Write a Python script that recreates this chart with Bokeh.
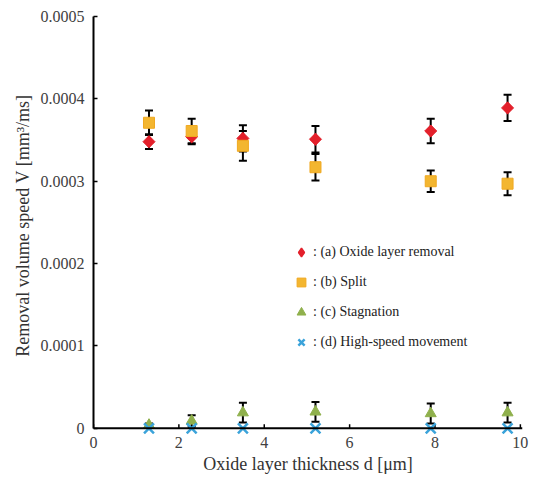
from bokeh.plotting import figure
from bokeh.models import (ColumnDataSource, Range1d, FixedTicker, Whisker, TeeHead,
                          Legend, LegendItem, Span)
from bokeh.embed import file_html
from bokeh.resources import INLINE
import math

# ---- data ----
thickness = [1.3, 2.3, 3.5, 5.2, 7.9, 9.7]
removal = [0.000348, 0.000354, 0.000352, 0.000351, 0.000361, 0.000389]
removal_err = [0.000009, 0.000009, 0.000016, 0.000016, 0.000015, 0.000016]
split = [0.000371, 0.000361, 0.000343, 0.000317, 0.000300, 0.000297]
split_err = [0.000015, 0.000015, 0.000018, 0.000016, 0.000013, 0.000014]
stagnation = [0.000004, 0.000009, 0.000019, 0.000020, 0.000018, 0.000019]
stagnation_err = [0.000002, 0.000007, 0.000012, 0.000012, 0.000012, 0.000012]
highspeed = [0.0, 0.0, 0.0, 0.0, 0.0, 0.0]

x_ticks = [0, 2, 4, 6, 8, 10]
y_ticks = [0, 0.0001, 0.0002, 0.0003, 0.0004, 0.0005]
y_tick_labels = ["0", "0.0001", "0.0002", "0.0003", "0.0004", "0.0005"]
legend_labels = [": (a) Oxide layer removal", ": (b) Split", ": (c) Stagnation",
                 ": (d) High-speed movement"]

FONT = "Liberation Serif"
Y_LO = -0.0000075
FRAME_H = 418
TICK_LEN = 4 * (0.0005 - Y_LO) / FRAME_H  # 4 px expressed in data units

p = figure(width=534, height=483, frame_width=429, frame_height=FRAME_H,
           min_border_left=93, min_border_right=12, min_border_top=16, min_border_bottom=49,
           x_range=Range1d(0, 10.05), y_range=Range1d(Y_LO, 0.0005),
           output_backend="svg", toolbar_location=None)
p.outline_line_color = None
p.grid.visible = False

for ax in (p.xaxis[0], p.yaxis[0]):
    ax.axis_line_color = "black"
    ax.axis_line_width = 2
    ax.major_tick_line_color = "black"
    ax.major_tick_line_width = 1.5
    ax.major_tick_in = 4
    ax.major_tick_out = 0
    ax.minor_tick_line_color = None
    ax.major_label_text_font = FONT
    ax.major_label_text_font_size = "16px"
    ax.major_label_text_color = "#404040"
    ax.axis_label_text_font = FONT
    ax.axis_label_text_font_size = "18px"
    ax.axis_label_text_font_style = "normal"
    ax.axis_label_text_color = "#333333"

# x axis: line drawn at y = 0 with a Span, ticks drawn as short segments
p.xaxis.axis_line_color = None
p.xaxis.major_tick_line_color = None
p.yaxis.bounds = (0, 0.0005)
p.xaxis.ticker = FixedTicker(ticks=x_ticks)
p.yaxis.ticker = FixedTicker(ticks=y_ticks)
p.yaxis.major_label_overrides = {t: l for t, l in zip(y_ticks, y_tick_labels)}
p.xaxis.major_label_standoff = 2
p.yaxis.major_label_standoff = 9
p.xaxis.axis_label = "Oxide layer thickness d [μm]"
p.yaxis.axis_label = "Removal volume speed V [mm³/ms]"
p.xaxis.axis_label_standoff = 3
p.yaxis.axis_label_standoff = 5

p.add_layout(Span(location=0, dimension="width", line_color="black", line_width=2))
p.segment(x0=x_ticks, y0=[0] * len(x_ticks), x1=x_ticks, y1=[TICK_LEN] * len(x_ticks),
          line_color="black", line_width=1.5)

def add_err(vals, errs):
    src = ColumnDataSource(dict(x=thickness,
                                up=[v + e for v, e in zip(vals, errs)],
                                lo=[v - e for v, e in zip(vals, errs)]))
    w = Whisker(base="x", upper="up", lower="lo", source=src, dimension="height",
                line_color="black", line_width=2,
                upper_head=TeeHead(size=8, line_color="black", line_width=2),
                lower_head=TeeHead(size=8, line_color="black", line_width=2))
    p.add_layout(w)

add_err(removal, removal_err)
add_err(split, split_err)
add_err(stagnation, stagnation_err)

RED, YEL, GRN, BLU = "#e3202b", "#f3b630", "#8fb04c", "#3ba3da"
# diamond key for (a) (drawn under the rotated-square markers, used by the legend)
key_a = p.scatter(thickness, removal, marker="diamond", size=11, fill_color=RED,
                  line_color=RED, line_width=1.5)
r_a = p.scatter(thickness, removal, marker="square", angle=math.pi / 4, size=8.5,
                fill_color=RED, line_color=RED)
r_b = p.scatter(thickness, split, marker="square", size=11, fill_color=YEL,
                line_color="#f0a820")
r_c = p.scatter(thickness, stagnation, marker="triangle", size=11, fill_color=GRN,
                line_color=GRN)
r_d = p.scatter(thickness, highspeed, marker="x", size=14, line_color=BLU,
                line_width=2.5)

legend = Legend(items=[LegendItem(label=l, renderers=[r]) for l, r in
                       zip(legend_labels, [key_a, r_b, r_c, r_d])],
                location=(197, 81), glyph_width=22, glyph_height=22, spacing=8,
                label_standoff=1, padding=0, margin=0,
                border_line_color=None, background_fill_alpha=0,
                label_text_font=FONT, label_text_font_size="14px",
                label_text_color="#222222")
p.add_layout(legend)

open("out.html", "w").write(file_html(p, INLINE))
